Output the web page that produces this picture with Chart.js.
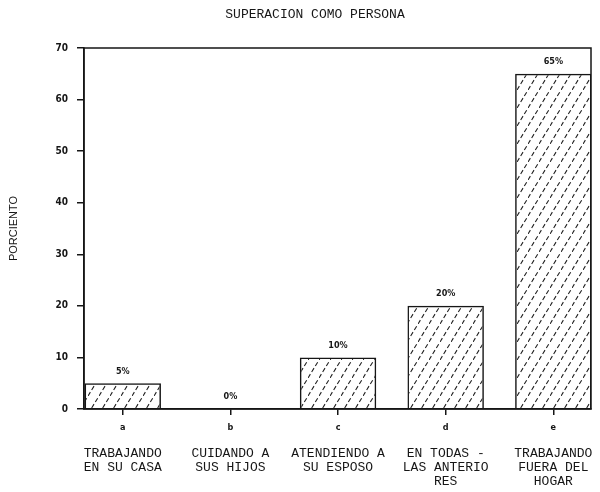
<!DOCTYPE html>
<html>
<head>
<meta charset="utf-8">
<script src="https://cdn.jsdelivr.net/npm/chart.js@4/dist/chart.umd.min.js"></script>
<style>
    body { margin: 0; background: #fff; }
    #wrap { width: 600px; height: 492px; }
</style>
</head>
<body>
<div id="wrap"><canvas id="chart"></canvas></div>
<script>
const categories = ['a', 'b', 'c', 'd', 'e'];
const categoryText = [
    ['TRABAJANDO', 'EN SU CASA'],
    ['CUIDANDO A', 'SUS HIJOS'],
    ['ATENDIENDO A', 'SU ESPOSO'],
    ['EN TODAS -', 'LAS ANTERIO', 'RES'],
    ['TRABAJANDO', 'FUERA DEL', 'HOGAR']
];
const percents = [5, 0, 10, 20, 65];
const valueLabels = ['5%', '0%', '10%', '20%', '65%'];

const ink = '#161616';
const mono = "'Liberation Mono', 'DejaVu Sans Mono', monospace";
const small = "'DejaVu Sans Condensed', 'DejaVu Sans', sans-serif";

// diagonal dashed hatching like the typed original
function makeHatch() {
    const c = document.createElement('canvas');
    c.width = 11;
    c.height = 18;
    const g = c.getContext('2d');
    g.strokeStyle = '#222';
    g.lineWidth = 1.1;
    g.setLineDash([4.5, 2.53]);
    g.beginPath();
    g.moveTo(0, 18);
    g.lineTo(11, 0);
    g.stroke();
    return g.createPattern(c, 'repeat');
}

// bars sit on a linear x scale so the side gaps can differ from the spacing
const xMin = -0.36;
const xMax = 4.35;
function fixedTicks(scale) {
    scale.ticks = categories.map((c, i) => ({ value: i }));
}
// labels may hang a little past the frame, like the typed page
function noSidePadding(scale, h) {
    scale.height = h;
    scale.paddingLeft = 0;
    scale.paddingRight = 0;
}

const frame = {
    id: 'frame',
    afterDraw(chart) {
        const { ctx, chartArea: a } = chart;
        ctx.save();
        ctx.strokeStyle = ink;
        ctx.lineWidth = 1.5;
        ctx.strokeRect(a.left, a.top, a.width, a.height);
        ctx.restore();
    }
};

const barValues = {
    id: 'barValues',
    afterDatasetsDraw(chart) {
        const ctx = chart.ctx;
        const meta = chart.getDatasetMeta(0);
        ctx.save();
        ctx.fillStyle = ink;
        ctx.font = 'bold 9px ' + small;
        ctx.textAlign = 'center';
        ctx.textBaseline = 'middle';
        meta.data.forEach((bar, i) => {
            ctx.fillText(valueLabels[i], bar.x, bar.y - 12);
        });
        ctx.restore();
    }
};

const ctx = document.getElementById('chart').getContext('2d');

const myChart = new Chart(ctx, {
    type: 'bar',
    data: {
        datasets: [{
            data: percents.map((v, i) => ({ x: i, y: v })),
            backgroundColor: makeHatch(),
            borderColor: ink,
            borderWidth: 1.5,
            barPercentage: 0.71,
            categoryPercentage: 1
        }]
    },
    options: {
        responsive: true,
        maintainAspectRatio: false,
        animation: false,
        layout: { padding: { left: 39, right: 9, top: 0, bottom: 0 } },
        plugins: {
            legend: { display: false },
            tooltip: { enabled: false },
            title: {
                display: true,
                text: 'SUPERACION COMO PERSONA',
                color: ink,
                font: { family: mono, size: 13, weight: 'normal', lineHeight: 1.2 },
                padding: { top: 7.2, bottom: 25.2 }
            }
        },
        scales: {
            x: {
                type: 'linear',
                min: xMin,
                max: xMax,
                offset: false,
                weight: 0,
                afterBuildTicks: fixedTicks,
                afterFit: s => noSidePadding(s, 24),
                border: { display: true, color: ink, width: 1.5 },
                grid: { display: true, offset: false, drawOnChartArea: false, drawTicks: true, tickLength: 6, color: ink, lineWidth: 1.5 },
                ticks: {
                    color: ink,
                    padding: 7,
                    autoSkip: false,
                    maxRotation: 0,
                    font: { family: small, size: 9, weight: 'bold', lineHeight: 1.2 },
                    callback: (v, i) => categories[i]
                }
            },
            x2: {
                type: 'linear',
                position: 'bottom',
                min: xMin,
                max: xMax,
                offset: false,
                weight: 1,
                afterBuildTicks: fixedTicks,
                afterFit: s => noSidePadding(s, 59),
                border: { display: false },
                grid: { display: false, offset: false, drawTicks: false, tickLength: 0 },
                ticks: {
                    color: ink,
                    padding: 13,
                    autoSkip: false,
                    maxRotation: 0,
                    font: { family: mono, size: 13, lineHeight: 1.1 },
                    callback: (v, i) => categoryText[i]
                }
            },
            y: {
                min: 0,
                max: 70,
                afterFit: s => { s.width = 45; },
                border: { display: true, color: ink, width: 1.5 },
                grid: { display: true, drawOnChartArea: false, drawTicks: true, tickLength: 7, color: ink, lineWidth: 1.5 },
                ticks: {
                    stepSize: 10,
                    color: ink,
                    padding: 9,
                    font: { family: small, size: 10, weight: 'bold' }
                },
                title: {
                    display: true,
                    text: 'PORCIENTO',
                    color: ink,
                    font: { family: "'Liberation Sans', Arial, sans-serif", size: 11, lineHeight: 1.2 },
                    // pulls the title out into the left page margin
                    padding: { top: -32, bottom: 0 }
                }
            }
        }
    },
    plugins: [frame, barValues]
});
</script>
</body>
</html>
